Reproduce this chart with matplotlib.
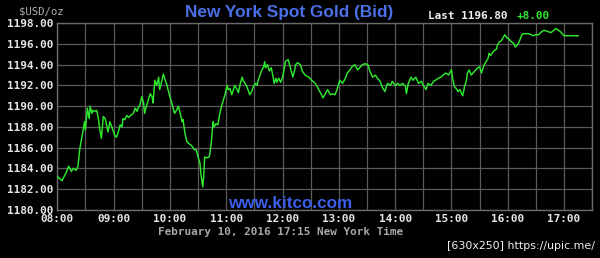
import matplotlib
matplotlib.use("Agg")
import matplotlib.pyplot as plt

# minutes after 08:00 New York time
minutes = [0, 5, 10, 12, 15, 17, 20, 22, 24, 27, 29, 30, 32, 34, 35, 37, 38, 40, 42, 44,
           45, 47, 49, 51, 53, 54, 56, 58, 60, 61, 63, 65, 67, 69, 70, 72, 74, 76, 78, 81,
           83, 85, 86, 88, 90, 92, 93, 95, 97, 99, 101, 102, 104, 106, 108, 109, 111, 113, 115, 117,
           118, 120, 122, 124, 125, 127, 129, 131, 133, 134, 136, 138, 140, 143, 146, 148, 150, 152, 153, 155,
           156, 157, 159, 162, 164, 166, 167, 169, 171, 173, 175, 177, 179, 181, 182, 184, 186, 188, 189, 191,
           193, 195, 197, 198, 200, 202, 204, 205, 207, 209, 211, 213, 214, 216, 218, 220, 221, 222, 224, 226,
           228, 230, 231, 233, 234, 236, 238, 240, 242, 243, 246, 247, 249, 251, 253, 254, 256, 259, 261, 264,
           268, 271, 275, 278, 281, 283, 285, 288, 291, 293, 296, 298, 301, 304, 307, 309, 312, 314, 317, 320,
           323, 325, 328, 331, 333, 336, 339, 341, 344, 346, 349, 352, 355, 357, 360, 363, 365, 368, 371, 372,
           374, 377, 379, 382, 385, 388, 390, 393, 395, 398, 401, 403, 406, 409, 411, 414, 417, 420, 421, 423,
           426, 427, 429, 432, 434, 436, 437, 439, 441, 443, 444, 446, 448, 450, 452, 453, 455, 457, 459, 460,
           462, 464, 466, 468, 469, 471, 473, 475, 477, 479, 481, 482, 484, 486, 488, 490, 491, 493, 495, 497,
           499, 502, 505, 507, 510, 513, 515, 518, 520, 523, 526, 529, 531, 533, 536, 538, 540, 555]
bid = [1183.2, 1182.8, 1183.7, 1184.2, 1183.7, 1184.0, 1183.8, 1184.2, 1185.9, 1187.4, 1188.5, 1187.7, 1189.8, 1188.8, 1190.0, 1189.3, 1189.6, 1189.5, 1189.6, 1188.7,
       1187.9, 1186.9, 1189.0, 1188.8, 1188.0, 1187.5, 1188.5, 1188.0, 1187.5, 1187.2, 1187.0, 1187.5, 1188.2, 1188.0, 1188.8, 1188.7, 1189.1, 1188.9, 1189.1, 1189.3,
       1189.8, 1189.5, 1189.8, 1190.1, 1190.9, 1190.3, 1189.3, 1190.0, 1190.6, 1191.2, 1190.9, 1190.3, 1192.5, 1192.0, 1192.8, 1191.6, 1192.3, 1193.1, 1192.5, 1192.0,
       1191.6, 1190.9, 1190.3, 1189.6, 1189.3, 1189.6, 1190.0, 1189.3, 1188.5, 1188.7, 1187.4, 1186.6, 1186.4, 1186.2, 1185.8, 1185.8, 1185.1, 1184.5, 1183.5, 1182.2,
       1183.2, 1185.1, 1185.0, 1185.1, 1186.4, 1188.5, 1188.0, 1188.3, 1188.2, 1189.2, 1190.0, 1190.6, 1191.2, 1192.0, 1191.6, 1191.7, 1191.1, 1191.7, 1192.0, 1191.7,
       1191.3, 1192.2, 1192.8, 1192.5, 1192.2, 1191.9, 1191.4, 1191.1, 1191.4, 1191.9, 1192.2, 1192.0, 1192.5, 1193.0, 1193.5, 1193.8, 1194.3, 1193.7, 1194.0, 1193.4,
       1193.7, 1192.8, 1192.2, 1192.7, 1192.3, 1192.7, 1192.3, 1192.8, 1193.7, 1194.3, 1194.5, 1194.2, 1193.5, 1192.8, 1193.5, 1194.0, 1194.2, 1194.0, 1193.4, 1193.0,
       1192.8, 1192.5, 1192.2, 1191.7, 1191.2, 1190.8, 1191.1, 1191.6, 1191.1, 1191.2, 1191.1, 1191.6, 1192.5, 1192.2, 1192.7, 1193.2, 1193.5, 1193.8, 1194.0, 1193.5,
       1193.8, 1194.0, 1194.1, 1194.0, 1193.4, 1192.8, 1193.0, 1192.7, 1192.4, 1191.9, 1191.4, 1192.2, 1192.0, 1192.4, 1192.0, 1192.2, 1192.0, 1192.2, 1191.9, 1191.2,
       1192.2, 1192.8, 1192.5, 1192.8, 1192.2, 1192.4, 1192.0, 1191.6, 1192.2, 1192.0, 1192.4, 1192.5, 1192.7, 1192.8, 1193.0, 1193.2, 1193.0, 1193.5, 1192.8, 1191.9,
       1191.6, 1191.4, 1191.6, 1191.0, 1191.9, 1192.5, 1193.2, 1193.5, 1193.0, 1193.2, 1193.3, 1193.5, 1193.7, 1193.8, 1193.2, 1193.5, 1194.0, 1194.3, 1194.6, 1195.1,
       1194.9, 1195.2, 1195.4, 1195.5, 1195.9, 1196.2, 1196.3, 1196.6, 1196.9, 1196.6, 1196.5, 1196.4, 1196.2, 1196.1, 1195.7, 1195.9, 1196.0, 1196.4, 1196.9, 1197.0,
       1197.0, 1197.0, 1196.9, 1196.8, 1196.9, 1196.9, 1197.1, 1197.3, 1197.3, 1197.2, 1197.1, 1197.3, 1197.5, 1197.4, 1197.2, 1197.0, 1196.8, 1196.8]

x_ticks = [0, 60, 120, 180, 240, 300, 360, 420, 480, 540]
x_labels = ["08:00", "09:00", "10:00", "11:00", "12:00", "13:00", "14:00", "15:00", "16:00", "17:00"]
y_ticks = [1180, 1182, 1184, 1186, 1188, 1190, 1192, 1194, 1196, 1198]
y_labels = ["%.2f" % v for v in y_ticks]

title = "New York Spot Gold (Bid)"
last_label = "Last 1196.80"
change_label = "+8.00"
unit_label = "$USD/oz"
date_label = "February 10, 2016 17:15 New York Time"
site_label = "www.kitco.com"
stamp_label = "[630x250] https://upic.me/"

W, H = 600, 258
fig = plt.figure(figsize=(6.0, 2.58), dpi=100, facecolor="black")
ax = fig.add_axes([57.3 / W, 1 - 209.7 / H, (592.2 - 57.3) / W, (209.7 - 23.3) / H])
ax.set_facecolor("black")

ax.plot(minutes, bid, color="#2ee82e", lw=1.05, zorder=3)

ax.set_xlim(0, 570)
ax.set_ylim(1180, 1198)
ax.set_xticks(x_ticks)
ax.set_xticks([30 + t for t in x_ticks], minor=True)
ax.set_yticks(y_ticks)
mono = "DejaVu Sans Mono"
ax.set_xticklabels(x_labels, family=mono, fontsize=7.9, fontweight="bold", color="#e6e6e6")
ax.set_yticklabels(y_labels, family=mono, fontsize=7.9, fontweight="bold", color="#e6e6e6")
ax.tick_params(which="both", length=0, pad=2.5)
ax.tick_params(axis="x", pad=3)
ax.grid(True, which="both", color="#5a5a5a", lw=0.9, zorder=1)
for s in ax.spines.values():
    s.set_color("#6a6a6a")
    s.set_linewidth(1.0)

def ftext(x, y, s, **kw):
    fig.text(x / W, 1 - y / H, s, **kw)

ftext(289, 12, title, ha="center", va="center", family="Liberation Sans",
      fontweight="bold", fontsize=12.4, color="#4a6fe6")
ftext(428, 16, last_label, ha="left", va="center", family=mono, fontweight="bold",
      fontsize=7.9, color="#f0f0f0")
ftext(517, 16, change_label, ha="left", va="center", family=mono, fontweight="bold",
      fontsize=7.9, color="#2ee82e")
ftext(19, 11, unit_label, ha="left", va="center", family=mono, fontsize=7.7, color="#b0b0b0")
ftext(158, 232, date_label, ha="left", va="center", family=mono, fontweight="bold",
      fontsize=7.95, color="#a8a8a8")
ftext(290, 203, site_label, ha="center", va="center", family="Liberation Sans",
      fontweight="bold", fontsize=12.3, color="#3d5ee8")
ftext(595, 246, stamp_label, ha="right", va="center", family="DejaVu Sans",
      fontsize=7.9, color="#f0f0f0")

fig.savefig("out.png", dpi=100, facecolor="black")
